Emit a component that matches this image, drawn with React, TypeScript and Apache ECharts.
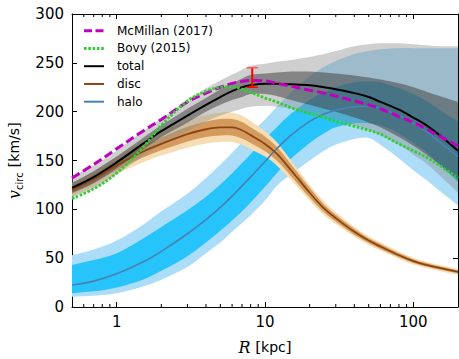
import React, { useEffect, useRef } from "react";
import * as echarts from "echarts";

// Galactocentric radius grid (kpc)
const R = [0.5, 0.7, 1, 1.5, 2, 3, 4, 5, 6, 7, 8, 10, 12, 15, 20, 25, 30, 40, 50, 60, 80, 100, 120, 150, 200];

// Reference curves
const mcmillan = [132, 146, 162, 180, 192, 210, 219, 225, 229, 231, 232, 231.5, 229, 226, 222, 219, 216, 211, 207, 203, 195, 189, 183, 175, 165];
const bovy = [111, 121, 137, 163, 186, 211, 221, 225, 225.5, 223, 220, 214, 210, 204, 198, 194, 190, 185, 181, 177, 167, 160, 154, 145, 132];

// Total
const total = [122, 133, 148, 167, 180, 196, 207, 215, 221, 225, 227, 228.5, 228.5, 228, 227, 225, 223, 219, 215, 210, 202, 194, 187, 176, 160];
const totalHi1 = [127, 139, 154, 173, 186, 203, 214, 223, 229, 234, 237.5, 239, 240, 241, 241, 240, 239, 237, 235, 233, 229, 225, 221, 216, 210];
const totalLo1 = [117, 127, 142, 161, 174, 189, 200, 207, 212, 215, 218, 218, 216, 212, 207, 203, 200, 194, 189, 184, 174, 165, 157, 146, 130];
const totalHi2 = [134, 145, 160, 180, 193, 212, 224, 232, 238, 243, 247, 249, 251, 253, 256, 259, 262, 267, 269, 270, 270, 269, 268, 267, 267];
const totalLo2 = [113, 121, 136, 154, 166, 180, 190, 196, 200, 203, 205, 206, 205, 203, 199, 195, 192, 186, 181, 176, 166, 156, 148, 135, 117];

// Disc
const disc = [120, 131, 145, 159, 167, 177, 182, 184, 184, 181, 176, 167, 157, 140, 117, 101, 91, 77, 68, 62, 53, 47, 43.5, 40, 36];
const discHi1 = [124, 135.5, 150, 165, 173.5, 184.5, 190, 192.5, 192.5, 189.5, 184, 174.5, 164, 146, 122, 105, 94.5, 80, 70.5, 64.5, 55, 49, 45.3, 41.6, 37.5];
const discLo1 = [116, 126.5, 140, 153, 160.5, 169.5, 174, 175.5, 175.5, 172.5, 168, 159.5, 150, 134, 112, 97, 87.5, 74, 65.5, 59.5, 51, 45, 41.7, 38.4, 34.5];
const discHi2 = [127, 139, 154, 170, 179, 191, 196.5, 199, 199, 196, 190.5, 180, 169, 150, 125, 108, 97, 82, 72.5, 66.2, 56.8, 50.5, 46.8, 43.1, 39];
const discLo2 = [113, 123, 136, 148, 155, 163, 167.5, 169, 169, 166, 161.5, 154, 145, 130, 109, 94, 85, 72, 63.5, 57.8, 49.2, 43.5, 40.2, 36.9, 33];

// Halo
const halo = [22.5, 26.5, 34, 46, 57, 75, 89.5, 102, 113.5, 124, 133, 149, 162, 176, 190, 197.5, 201.5, 205, 205.5, 203.5, 196, 188, 180.5, 169, 154];
const haloHi1 = [43, 48, 55, 70, 82, 99, 113, 125.5, 137, 147.5, 156.5, 172, 184, 198, 212, 220, 225, 230, 231, 230, 224, 218, 212, 202, 190];
const haloLo1 = [14, 16, 20, 28, 37, 52, 66, 78, 88.5, 98, 107, 123, 137, 152, 168, 178, 184, 188, 188, 186, 178, 168, 160, 146, 128];
const haloHi2 = [53, 59, 68, 84, 98, 116, 132, 146, 158, 169, 178, 192, 205, 220, 236, 246, 252, 259, 262, 264, 265, 265, 265, 265, 265];
const haloLo2 = [10.5, 11.5, 14, 21, 28, 41, 55, 66, 77, 86, 94, 109, 124, 136, 150, 160, 166, 172, 173, 166, 152, 140, 131, 119, 104];

// Solar-radius measurement with error bar
const errR = [8.2];
const errV = [235];
const errLo = [225];
const errHi = [245];

// Minor log ticks
const minorTicks = [0.6, 0.7, 0.8, 0.9, 2, 3, 4, 5, 6, 7, 8, 9, 20, 30, 40, 50, 60, 70, 80, 90];

const legendNames = ["McMillan (2017)", "Bovy (2015)", "total", "disc", "halo"];

const FONT = "DejaVu Sans";

// Smooth band shape (Hermite curves through projected points)
function hermite(ctx: any, pts: number[][], move: boolean) {
  const n = pts.length;
  const slope = (i: number) => {
    if (i === 0) return (pts[1][1] - pts[0][1]) / (pts[1][0] - pts[0][0]);
    if (i === n - 1) return (pts[n - 1][1] - pts[n - 2][1]) / (pts[n - 1][0] - pts[n - 2][0]);
    return (pts[i + 1][1] - pts[i - 1][1]) / (pts[i + 1][0] - pts[i - 1][0]);
  };
  if (move) ctx.moveTo(pts[0][0], pts[0][1]);
  else ctx.lineTo(pts[0][0], pts[0][1]);
  for (let i = 0; i < n - 1; i++) {
    const [x0, y0] = pts[i];
    const [x1, y1] = pts[i + 1];
    const dx = x1 - x0;
    const s0 = slope(i);
    const s1 = slope(i + 1);
    ctx.bezierCurveTo(x0 + dx / 3, y0 + (s0 * dx) / 3, x1 - dx / 3, y1 - (s1 * dx) / 3, x1, y1);
  }
}

let registered = false;
function registerBand() {
  if (registered) return;
  registered = true;
  const Band = (echarts.graphic as any).extendShape({
    type: "bandShape",
    shape: { up: [], lo: [] },
    buildPath(ctx: any, shape: any) {
      if (!shape.up || shape.up.length < 2) return;
      hermite(ctx, shape.up, true);
      hermite(ctx, shape.lo.slice().reverse(), false);
      ctx.closePath();
    },
  });
  (echarts.graphic as any).registerShape("bandShape", Band);
}

function bandSeries(id: string, lo: number[], hi: number[], color: string) {
  return {
    type: "custom",
    name: id,
    data: R.map((r, i) => [r, lo[i], hi[i]]),
    encode: { x: 0, y: [1, 2] },
    silent: true,
    z: 1,
    renderItem: (params: any, api: any) => {
      if (params.dataIndex !== 0) return null;
      const up = R.map((r, i) => api.coord([r, hi[i]]));
      const dn = R.map((r, i) => api.coord([r, lo[i]]));
      return { type: "bandShape", shape: { up, lo: dn }, style: { fill: color } };
    },
  };
}

function lineSeries(name: string, vals: number[], color: string, width: number, dash?: number[]) {
  return {
    type: "line",
    name,
    data: R.map((r, i) => [r, vals[i]]),
    symbol: "none",
    smooth: 0.35,
    lineStyle: { color, width, type: dash ? dash : "solid", cap: "butt" },
    silent: true,
    z: 3,
  };
}

export default function App() {
  const ref = useRef<HTMLDivElement>(null);
  useEffect(() => {
    if (!ref.current) return;
    registerBand();
    const chart = echarts.init(ref.current, undefined, { renderer: "svg" });

    const xAxisBase = {
      type: "log",
      logBase: 10,
      min: 0.5,
      max: 200,
      splitLine: { show: false },
      axisLine: { show: true, onZero: false, lineStyle: { color: "#000", width: 1 } },
      axisTick: { show: true, inside: true, length: 5, lineStyle: { color: "#000", width: 1 } },
    };
    const yAxisBase = {
      type: "value",
      min: 0,
      max: 300,
      interval: 50,
      splitLine: { show: false },
      axisLine: { show: true, onZero: false, lineStyle: { color: "#000", width: 1 } },
      axisTick: { show: true, inside: true, length: 5, lineStyle: { color: "#000", width: 1 } },
    };

    const legendColors = ["#bf00bf", "#33cc33", "#000000", "#8b4513", "#4682b4"];
    const legendDash: (number[] | null)[] = [[8, 3.5], [2.6, 1.7], null, null, null];
    const legendWidth = [3, 3, 2, 2, 2];
    const legendGraphics: any[] = [];
    legendNames.forEach((nm, i) => {
      const y = 30.7 + i * 17.75;
      legendGraphics.push({
        type: "line",
        z: 100,
        shape: { x1: 84, y1: y, x2: 104, y2: y },
        style: {
          stroke: legendColors[i],
          lineWidth: legendWidth[i],
          lineDash: legendDash[i] || null,
        },
      });
      legendGraphics.push({
        type: "text",
        z: 100,
        x: 117,
        y: y,
        style: {
          text: nm,
          fontSize: 12,
          fontFamily: FONT,
          fill: "#000",
          verticalAlign: "middle",
          align: "left",
        },
      });
    });

    const option: any = {
      animation: false,
      backgroundColor: "#fff",
      grid: { left: 72, right: 1, top: 14, bottom: 52, containLabel: false, outerBoundsMode: "none" },
      xAxis: [
        {
          ...xAxisBase,
          position: "bottom",
          axisLabel: {
            show: true,
            margin: 7,
            fontSize: 15,
            fontFamily: FONT,
            color: "#000",
            formatter: (v: number) => {
              const l = Math.log10(v);
              return Math.abs(l - Math.round(l)) < 1e-6 ? String(Math.round(v)) : "";
            },
          },
          name: "{i|R}{b| [}{s|kpc}{b|]}",
          nameLocation: "middle",
          nameGap: 32,
          nameTextStyle: {
            color: "#000",
            rich: {
              i: { fontFamily: "DejaVu Serif", fontStyle: "italic", fontSize: 16, color: "#000" },
              b: { fontFamily: "DejaVu Serif", fontSize: 15, color: "#000" },
              s: { fontFamily: FONT, fontSize: 14, color: "#000" },
            },
          },
        },
        {
          ...xAxisBase,
          position: "top",
          axisLabel: { show: false },
        },
      ],
      yAxis: [
        {
          ...yAxisBase,
          position: "left",
          axisLabel: { show: true, margin: 8, fontSize: 15, fontFamily: FONT, color: "#000" },
          name: "{v|v}{c|circ}{b| [}{s|km/s}{b|]}",
          nameLocation: "middle",
          nameGap: 47,
          nameTextStyle: {
            color: "#000",
            rich: {
              v: { fontFamily: "DejaVu Serif", fontStyle: "italic", fontSize: 16, lineHeight: 20, color: "#000" },
              c: { fontFamily: FONT, fontSize: 10, lineHeight: 10, verticalAlign: "bottom", color: "#000" },
              b: { fontFamily: "DejaVu Serif", fontSize: 15, lineHeight: 20, color: "#000" },
              s: { fontFamily: FONT, fontSize: 14, lineHeight: 20, color: "#000" },
            },
          },
        },
        {
          ...yAxisBase,
          position: "right",
          axisLabel: { show: false },
        },
      ],
      graphic: legendGraphics,
      series: [
        bandSeries("haloL", haloLo2, haloHi2, "#abdcf8"),
        bandSeries("haloD", haloLo1, haloHi1, "#27c4fb"),
        bandSeries("discL", discLo2, discHi2, "#f6ddb4"),
        bandSeries("discD", discLo1, discHi1, "#d59b5e"),
        bandSeries("totL", totalLo2, totalHi2, "rgba(140,140,140,0.42)"),
        bandSeries("totD", totalLo1, totalHi1, "rgba(60,60,60,0.5)"),
        lineSeries("halo", halo, "#4682b4", 1.6),
        lineSeries("disc", disc, "#8b4513", 1.8),
        lineSeries("total", total, "#000000", 2),
        lineSeries("McMillan (2017)", mcmillan, "#bf00bf", 3, [9, 4]),
        lineSeries("Bovy (2015)", bovy, "#33cc33", 2.8, [2.6, 1.6]),
        {
          type: "custom",
          name: "err",
          data: errR.map((r, i) => [r, errV[i], errLo[i], errHi[i]]),
          encode: { x: 0, y: 1 },
          z: 10,
          silent: true,
          renderItem: (params: any, api: any) => {
            const x = api.value(0);
            const lo = api.coord([x, api.value(2)]);
            const hi = api.coord([x, api.value(3)]);
            return {
              type: "group",
              children: [
                { type: "line", shape: { x1: lo[0], y1: lo[1], x2: hi[0], y2: hi[1] }, style: { stroke: "#ff0000", lineWidth: 2 } },
                { type: "line", shape: { x1: lo[0] - 5.5, y1: lo[1], x2: lo[0] + 5.5, y2: lo[1] }, style: { stroke: "#ff0000", lineWidth: 1.5 } },
                { type: "line", shape: { x1: hi[0] - 5.5, y1: hi[1], x2: hi[0] + 5.5, y2: hi[1] }, style: { stroke: "#ff5050", lineWidth: 1.5 } },
              ],
            };
          },
        },
        {
          type: "custom",
          name: "minorTicks",
          data: minorTicks.map((v) => [v, 0]),
          encode: { x: 0, y: 1 },
          z: 20,
          silent: true,
          clip: false,
          renderItem: (params: any, api: any) => {
            const v = api.value(0);
            const b = api.coord([v, 0]);
            const t = api.coord([v, 300]);
            return {
              type: "group",
              children: [
                { type: "line", shape: { x1: b[0], y1: b[1], x2: b[0], y2: b[1] - 3 }, style: { stroke: "#000", lineWidth: 1 } },
                { type: "line", shape: { x1: t[0], y1: t[1], x2: t[0], y2: t[1] + 3 }, style: { stroke: "#000", lineWidth: 1 } },
              ],
            };
          },
        },
      ],
    };
    chart.setOption(option);
    return () => chart.dispose();
  }, []);
  return (
    <div
      ref={ref}
      style={{ position: "absolute", left: 0, top: 0, width: 459, height: 359, background: "#fff" }}
    />
  );
}
